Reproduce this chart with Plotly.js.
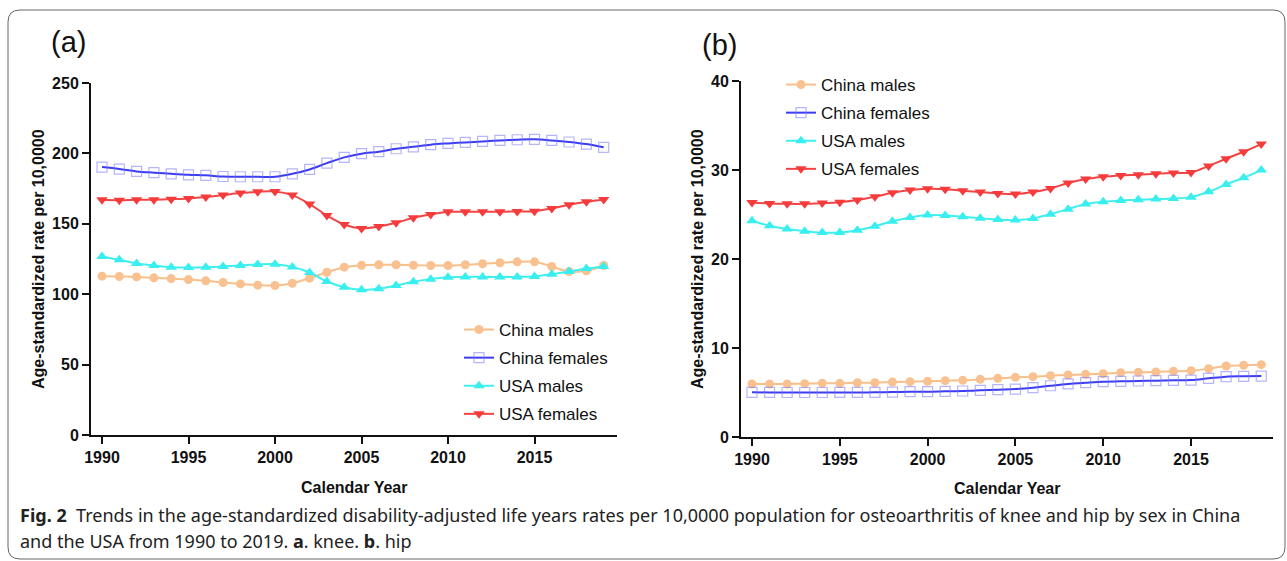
<!DOCTYPE html>
<html>
<head>
<meta charset="utf-8">
<script src="https://cdn.plot.ly/plotly-3.0.1.min.js"></script>
<style>
  html, body { margin: 0; padding: 0; background: #fff; }
  #chart { width: 1287px; height: 561px; }
</style>
</head>
<body>
<div id="chart"></div>
<script>
// ---------- data ----------
const years = [1990, 1991, 1992, 1993, 1994, 1995, 1996, 1997, 1998, 1999,
               2000, 2001, 2002, 2003, 2004, 2005, 2006, 2007, 2008, 2009,
               2010, 2011, 2012, 2013, 2014, 2015, 2016, 2017, 2018, 2019];

const seriesNames = ["China males", "China females", "USA males", "USA females"];

// (a) knee
const kneeChinaMales = [112.8, 112.6, 112.3, 111.6, 111.1, 110.4, 109.5, 108.3, 107.3, 106.4,
                        106.2, 107.8, 111.4, 115.6, 119.2, 120.6, 120.9, 120.9, 120.6, 120.4,
                        120.4, 120.9, 121.6, 122.3, 123.0, 123.0, 119.7, 116.1, 116.6, 120.4];
const kneeChinaFemales = [190.3, 188.9, 187.2, 186.3, 185.5, 184.8, 184.4, 183.6, 183.4, 183.4,
                          183.4, 185.5, 188.6, 193.1, 197.2, 199.8, 201.2, 203.3, 204.7, 206.2,
                          207.1, 207.8, 208.5, 209.2, 209.7, 210.0, 209.2, 208.1, 206.6, 204.3];
const kneeUsaMales = [126.8, 124.4, 121.8, 120.4, 119.2, 119.0, 119.2, 119.7, 120.4, 121.1,
                      121.3, 119.4, 115.4, 109.0, 105.0, 103.1, 103.8, 106.2, 108.8, 110.7,
                      112.1, 112.3, 112.3, 112.3, 112.3, 112.6, 114.2, 116.1, 118.2, 119.7];
const kneeUsaFemales = [167.1, 166.8, 167.1, 167.1, 167.5, 168.0, 169.0, 170.4, 171.8, 172.7,
                        173.0, 170.4, 164.0, 155.9, 149.5, 146.7, 148.1, 150.7, 154.3, 156.6,
                        158.5, 158.5, 158.5, 158.5, 158.8, 159.0, 160.9, 163.5, 165.6, 167.3];

// (b) hip
const hipChinaMales = [5.96, 5.96, 5.96, 5.99, 6.03, 6.03, 6.10, 6.10, 6.18, 6.22,
                       6.25, 6.33, 6.37, 6.48, 6.59, 6.70, 6.78, 6.89, 6.97, 7.04,
                       7.12, 7.23, 7.27, 7.30, 7.38, 7.45, 7.68, 7.98, 8.06, 8.13];
const hipChinaFemales = [5.02, 5.01, 5.00, 5.00, 5.00, 5.01, 5.01, 5.02, 5.05, 5.09,
                         5.09, 5.13, 5.17, 5.24, 5.32, 5.39, 5.54, 5.76, 5.96, 6.10,
                         6.22, 6.25, 6.29, 6.33, 6.37, 6.40, 6.59, 6.78, 6.82, 6.85];
const hipUsaMales = [24.29, 23.73, 23.36, 23.13, 22.98, 22.98, 23.24, 23.69, 24.25, 24.67,
                     24.93, 24.89, 24.74, 24.59, 24.44, 24.37, 24.55, 25.04, 25.60, 26.17,
                     26.43, 26.58, 26.65, 26.73, 26.80, 26.95, 27.55, 28.38, 29.13, 29.99];
const hipUsaFemales = [26.35, 26.24, 26.20, 26.20, 26.28, 26.39, 26.62, 26.99, 27.44, 27.74,
                       27.89, 27.85, 27.67, 27.52, 27.37, 27.29, 27.52, 27.93, 28.53, 28.98,
                       29.24, 29.39, 29.47, 29.58, 29.65, 29.73, 30.44, 31.27, 32.05, 32.91];

const xTicks = [1990, 1995, 2000, 2005, 2010, 2015];
const yTicksA = [0, 50, 100, 150, 200, 250];
const yTicksB = [0, 10, 20, 30, 40];

// ---------- styles ----------
const W = 1287, H = 561;
const px = v => v / W;
const py = v => 1 - v / H;

const styles = [
  { line: '#F8BF8B', marker: { symbol: 'circle', size: 9, color: '#F9C190', line: { width: 0 } } },
  { line: '#3C3CF2', marker: { symbol: 'square-open', size: 10, color: 'rgba(120,120,250,0.55)', line: { width: 1.2 } } },
  { line: '#3FEFEF', marker: { symbol: 'triangle-up', size: 10, color: '#38EEEE', line: { width: 0 } } },
  { line: '#F24444', marker: { symbol: 'triangle-down', size: 10, color: '#F53B3B', line: { width: 0 } } }
];

function mk(xa, ya, legendId, idx, ys, grp) {
  return {
    x: years, y: ys, xaxis: xa, yaxis: ya,
    type: 'scatter', mode: 'lines+markers',
    name: seriesNames[idx],
    legend: legendId,
    legendgroup: grp + idx,
    line: { color: styles[idx].line, width: 2, shape: 'spline', smoothing: 1 },
    marker: styles[idx].marker,
    hoverinfo: 'x+y+name'
  };
}

const data = [
  mk('x', 'y', 'legend', 0, kneeChinaMales, 'a'),
  mk('x', 'y', 'legend', 1, kneeChinaFemales, 'a'),
  mk('x', 'y', 'legend', 2, kneeUsaMales, 'a'),
  mk('x', 'y', 'legend', 3, kneeUsaFemales, 'a'),
  mk('x2', 'y2', 'legend2', 0, hipChinaMales, 'b'),
  mk('x2', 'y2', 'legend2', 1, hipChinaFemales, 'b'),
  mk('x2', 'y2', 'legend2', 2, hipUsaMales, 'b'),
  mk('x2', 'y2', 'legend2', 3, hipUsaFemales, 'b')
];

const tickFont = { family: 'Liberation Sans, Arial, sans-serif', size: 16, color: '#111', weight: 'bold' };

function xAxis(domain, range, anchor) {
  return {
    domain: domain, range: range, anchor: anchor,
    tickmode: 'array', tickvals: xTicks, ticktext: xTicks.map(String),
    ticks: 'outside', ticklen: 7, tickwidth: 2, tickcolor: '#111',
    showline: true, linewidth: 2, linecolor: '#111',
    showgrid: false, zeroline: false, tickfont: tickFont, fixedrange: true
  };
}
function yAxis(domain, range, ticks, anchor) {
  return {
    domain: domain, range: range, anchor: anchor,
    tickmode: 'array', tickvals: ticks, ticktext: ticks.map(String),
    ticks: 'outside', ticklen: 7, tickwidth: 2, tickcolor: '#111',
    showline: true, linewidth: 2, linecolor: '#111',
    showgrid: false, zeroline: false, tickfont: tickFont, fixedrange: true
  };
}

const titleFont = { family: 'Liberation Sans, Arial, sans-serif', size: 16, color: '#111', weight: 'bold' };
const capFont = { family: 'Noto Sans, Open Sans, Liberation Sans, sans-serif', size: 18, color: '#222' };

const rr = (x0, y0, x1, y1, r) =>
  `M ${px(x1 - r)},${py(y0)} L ${px(x0 + r)},${py(y0)} Q ${px(x0)},${py(y0)} ${px(x0)},${py(y0 + r)} ` +
  `L ${px(x0)},${py(y1 - r)} Q ${px(x0)},${py(y1)} ${px(x0 + r)},${py(y1)} L ${px(x1 - r)},${py(y1)} ` +
  `Q ${px(x1)},${py(y1)} ${px(x1)},${py(y1 - r)} L ${px(x1)},${py(y0 + r)} Q ${px(x1)},${py(y0)} ${px(x1 - r)},${py(y0)} Z`;

const layout = {
  width: W, height: H,
  margin: { l: 0, r: 0, t: 0, b: 0 },
  paper_bgcolor: '#fff', plot_bgcolor: 'rgba(0,0,0,0)',
  font: { family: 'Liberation Sans, Arial, sans-serif', color: '#111' },
  showlegend: true,
  xaxis: xAxis([px(91), px(617)], [1990 - 11 / 17.3, 1990 + 515 / 17.3], 'y'),
  yaxis: yAxis([py(435), py(83)], [0, 250], yTicksA, 'x'),
  xaxis2: xAxis([px(741), px(1273)], [1990 - 11 / 17.56, 1990 + 521 / 17.56], 'y2'),
  yaxis2: yAxis([py(437), py(81)], [0, 40], yTicksB, 'x2'),
  legend: {
    x: px(459), y: py(312), xanchor: 'left', yanchor: 'top',
    bgcolor: 'rgba(0,0,0,0)', font: { size: 17, color: '#111', family: 'Liberation Sans, Arial, sans-serif' },
    tracegroupgap: 3, itemclick: false, itemdoubleclick: false
  },
  legend2: {
    x: px(781), y: py(67), xanchor: 'left', yanchor: 'top',
    bgcolor: 'rgba(0,0,0,0)', font: { size: 17, color: '#111', family: 'Liberation Sans, Arial, sans-serif' },
    tracegroupgap: 3, itemclick: false, itemdoubleclick: false
  },
  shapes: [
    { type: 'path', xref: 'paper', yref: 'paper', path: rr(8, 10, 1285, 559, 12),
      line: { color: '#666', width: 1 }, fillcolor: 'rgba(0,0,0,0)', layer: 'below' }
  ],
  annotations: [
    { text: '(a)', xref: 'paper', yref: 'paper', x: px(68), y: py(42), showarrow: false,
      xanchor: 'center', yanchor: 'middle', font: { size: 29, color: '#111' } },
    { text: '(b)', xref: 'paper', yref: 'paper', x: px(719), y: py(45), showarrow: false,
      xanchor: 'center', yanchor: 'middle', font: { size: 29, color: '#111' } },
    { text: 'Age-standardized rate per 10,0000', xref: 'paper', yref: 'paper', x: px(38), y: py(259),
      textangle: -90, showarrow: false, xanchor: 'center', yanchor: 'middle', font: titleFont },
    { text: 'Age-standardized rate per 10,0000', xref: 'paper', yref: 'paper', x: px(697), y: py(259),
      textangle: -90, showarrow: false, xanchor: 'center', yanchor: 'middle', font: titleFont },
    { text: 'Calendar Year', xref: 'paper', yref: 'paper', x: px(354), y: py(487), showarrow: false,
      xanchor: 'center', yanchor: 'middle', font: titleFont },
    { text: 'Calendar Year', xref: 'paper', yref: 'paper', x: px(1007), y: py(488), showarrow: false,
      xanchor: 'center', yanchor: 'middle', font: titleFont },
    { text: '<b>Fig. 2</b>  Trends in the age-standardized disability-adjusted life years rates per 10,0000 population for osteoarthritis of knee and hip by sex in China',
      xref: 'paper', yref: 'paper', x: px(18), y: py(515), showarrow: false,
      xanchor: 'left', yanchor: 'middle', align: 'left', font: capFont },
    { text: 'and the USA from 1990 to 2019. <b>a</b>. knee. <b>b</b>. hip',
      xref: 'paper', yref: 'paper', x: px(18), y: py(541), showarrow: false,
      xanchor: 'left', yanchor: 'middle', align: 'left', font: capFont }
  ]
};

Plotly.newPlot('chart', data, layout, { displayModeBar: false, staticPlot: false, responsive: false });
</script>
</body>
</html>
